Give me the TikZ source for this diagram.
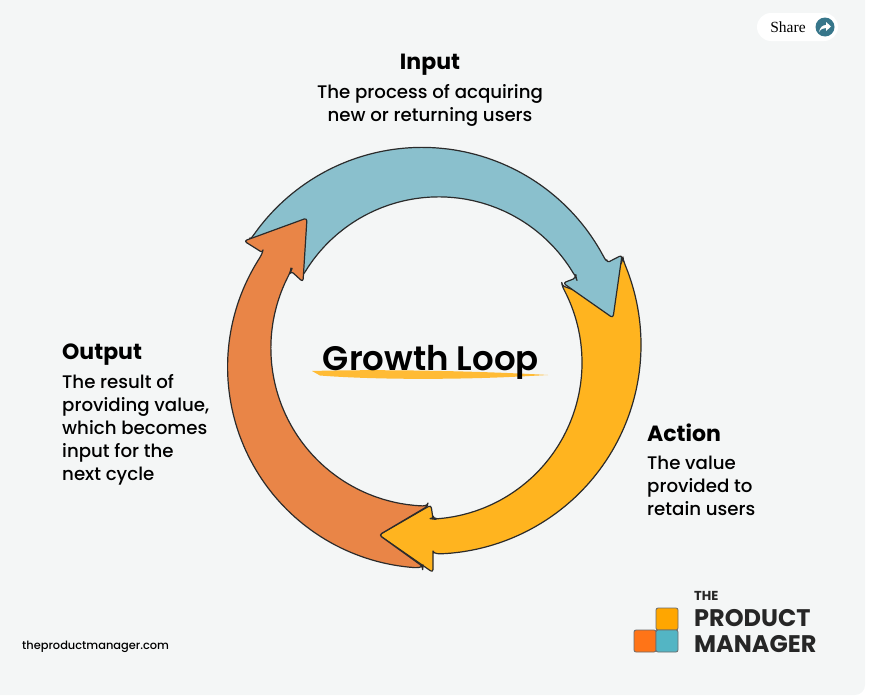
\documentclass[tikz,border=0pt]{standalone}
\usepackage{fontspec}
\setmainfont{Poppins Medium}[BoldFont=Poppins Bold]
\newfontfamily\titlefont{Poppins SemiBold}
\newfontfamily\sharefont{Liberation Serif}
\definecolor{cardgrey}{HTML}{F4F6F6}
\definecolor{loopblue}{HTML}{8AC0CD}
\definecolor{loopyellow}{HTML}{FFB41F}
\definecolor{looporange}{HTML}{E98547}
\definecolor{loopline}{HTML}{2B2B2B}
\definecolor{sharegreen}{HTML}{37768A}
\tikzset{
  looparrow/.style={draw=loopline,line width=1.2pt,line join=round,rounded corners=3pt,samples=40,smooth},
  logobox/.style={draw=loopline!70,line width=0.8pt,rounded corners=2pt},
  headtext/.style={font=\fontsize{22}{26}\selectfont\bfseries,inner sep=0pt},
  bodytext/.style={font=\fontsize{18.2}{23}\selectfont,inner sep=0pt},
  logotext/.style={font=\fontsize{24}{28}\selectfont\bfseries,text=black!85,inner sep=0pt,anchor=west}
}
\begin{document}
\begin{tikzpicture}[y=-1pt,x=1pt]
\useasboundingbox (0,0) rectangle (883,696);
\fill[cardgrey] (0,0) -- (865,0) {[rounded corners=10pt] -- (865,695)} -- (0,695) -- cycle;

\filldraw[fill=white,draw=none,rounded corners=14pt] (757,13) rectangle (838,41);
\node[font=\sharefont\fontsize{15.5}{18}\selectfont,inner sep=0pt] (share) at (788,27) {Share};
\fill[sharegreen] (825,27) circle (9.5pt);
\fill[white] (819,32) .. controls (820,27) and (823,25) .. (826,25) -- (826,22) -- (831,26.5) -- (826,31) -- (826,28) .. controls (823,28) and (821,29) .. (819,32) -- cycle;

\filldraw[looparrow,fill=loopyellow] (379,535) -- (431,505) -- (433,519)
  -- plot[domain=87.2:-29.5] ({425.4+156.6*cos(\x)},{362.6+156.6*sin(\x)})
  -- (600,300) -- (623,260)
  -- plot[domain=-24:89.7] ({431.9+209.1*cos(\x)},{344.9+209.1*sin(\x)})
  -- (433,572.5) -- cycle;

\filldraw[looparrow,fill=loopblue] (290,240) -- (249.6,241)
  -- plot[domain=213:334] ({422+205.6*cos(\x)},{353+205.6*sin(\x)})
  -- (622,255) -- (613,318) -- (563,283) -- (576,278)
  -- plot[domain=331:209.5] ({438.8+156.7*cos(\x)},{353.6+156.7*sin(\x)})
  -- cycle;

\filldraw[looparrow,fill=looporange] (244,241) -- (307,218) -- (303,282) -- (291,271)
  -- plot[domain=209.2:90.3] ({428.8+157.9*cos(\x)},{348.1+157.9*sin(\x)})
  -- (379,535) -- (423,566.7)
  -- plot[domain=91.7:214.5] ({428.8+201.2*cos(\x)},{366.9+201.2*sin(\x)})
  -- cycle;

\fill[loopyellow!90!white] (312,371) .. controls (380,369) and (480,371) .. (548,375) -- (520,376.5) .. controls (450,380) and (370,379.5) .. (320,375.5) -- cycle;
\node[font=\titlefont\fontsize{34}{40}\selectfont,inner sep=0pt] (title) at (431,362.5) {Growth Loop};

\node[headtext] (input) at (430,65) {Input};
\node[bodytext,align=center] (inputtext) at (430,105.5) {The process of acquiring\\new or returning users};

\node[headtext,anchor=west] (output) at (62,355) {Output};
\node[bodytext,align=left,anchor=north west] (outputtext) at (62,374) {The result of\\providing value,\\which becomes\\input for the\\next cycle};

\node[headtext,anchor=west] (action) at (647,433) {Action};
\node[bodytext,align=left,anchor=north west] (actiontext) at (647,455.5) {The value\\provided to\\retain users};

\node[font=\fontsize{11.4}{14}\selectfont,inner sep=0pt,anchor=west] (site) at (22,647) {theproductmanager.com};

\filldraw[logobox,fill={rgb,255:red,255;green,166;blue,0}] (656,608) rectangle (678,630);
\filldraw[logobox,fill={rgb,255:red,255;green,116;blue,23}] (634,630) rectangle (656,652);
\filldraw[logobox,fill={rgb,255:red,83;green,181;blue,196}] (656,630) rectangle (678,652);
\node[font=\fontsize{13}{15}\selectfont\bfseries,text=black!85,inner sep=0pt,anchor=west] (logothe) at (694,596) {THE};
\node[logotext] (logoproduct) at (694,618) {PRODUCT};
\node[logotext] (logomanager) at (694,644) {MANAGER};
\end{tikzpicture}
\end{document}
